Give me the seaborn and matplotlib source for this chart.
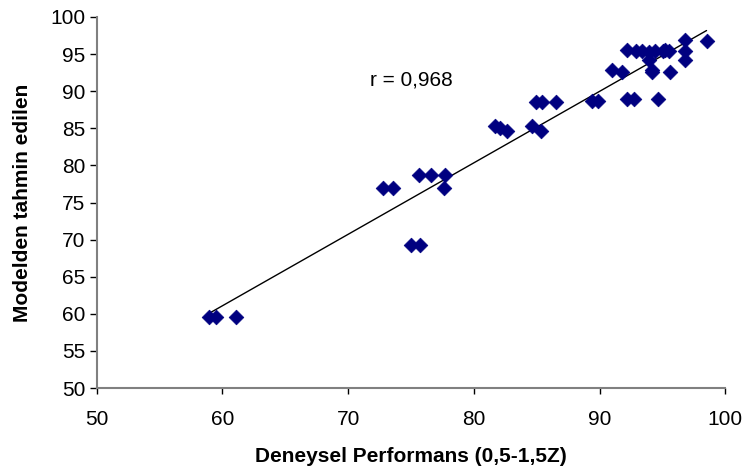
import numpy as np
import pandas as pd
import matplotlib
matplotlib.use("Agg")
import matplotlib.pyplot as plt
import seaborn as sns

# values
deneysel = [58.9, 59.5, 61.1, 75.0, 75.7, 72.8, 73.6, 77.6, 75.6, 76.6,
            77.7, 81.7, 82.1, 82.6, 84.6, 85.3, 84.9, 85.4, 86.5, 89.4,
            89.9, 92.2, 92.7, 94.6, 91.0, 91.8, 94.2, 95.6, 94.2, 92.2,
            92.9, 93.4, 93.9, 94.4, 95.0, 95.2, 93.9, 96.8, 96.8, 96.8,
            98.5, 95.5]
tahmin = [59.6, 59.6, 59.6, 69.3, 69.3, 76.9, 76.9, 76.9, 78.7, 78.7,
          78.7, 85.3, 85.1, 84.6, 85.3, 84.6, 88.6, 88.6, 88.6, 88.7,
          88.7, 88.9, 88.9, 88.9, 92.8, 92.6, 92.6, 92.6, 92.9, 95.5,
          95.4, 95.4, 95.3, 95.4, 95.4, 95.6, 94.2, 96.9, 95.4, 94.2,
          96.8, 95.4]
r_text = "r = 0,968"
x_ticks = [50, 60, 70, 80, 90, 100]
y_ticks = [50, 55, 60, 65, 70, 75, 80, 85, 90, 95, 100]

df = pd.DataFrame({"x": deneysel, "y": tahmin})

sns.set_style("white", {"text.color": "black", "xtick.color": "black",
                        "ytick.color": "black", "axes.labelcolor": "black"})
plt.rcParams["font.family"] = ["Liberation Sans", "DejaVu Sans"]

fig = plt.figure(figsize=(7.44, 4.71), dpi=100)
ax = fig.add_axes([0.130, 0.176, 0.845, 0.788])

sns.regplot(data=df, x="x", y="y", ax=ax, ci=None, truncate=True,
            scatter=False, line_kws={"color": "black", "linewidth": 1.0})
sns.scatterplot(data=df, x="x", y="y", ax=ax, marker="D", s=56,
                color="#000080", edgecolor="#000080", linewidth=0.5, zorder=3)

ax.text(71.7, 91.5, r_text, fontsize=15, ha="left", va="center", color="black")

ax.set_xlim(50, 100)
ax.set_ylim(50, 100)
ax.set_xticks(x_ticks)
ax.set_yticks(y_ticks)
ax.tick_params(axis="x", direction="out", length=4, width=1, color="black",
               labelcolor="black", labelsize=15, pad=12, bottom=True)
ax.tick_params(axis="y", direction="out", length=5, width=1, color="black",
               labelcolor="black", labelsize=15, pad=3, left=True)

for side in ["top", "right"]:
    ax.spines[side].set_visible(False)
for side in ["left", "bottom"]:
    ax.spines[side].set_color("#808080")
    ax.spines[side].set_linewidth(1.5)

ax.set_xlabel("Deneysel Performans (0,5-1,5Z)", fontsize=15,
              fontweight="bold", labelpad=13, color="black")
ax.set_ylabel("Modelden tahmin edilen", fontsize=15,
              fontweight="bold", labelpad=13, color="black")

fig.savefig("out.png", dpi=100)
